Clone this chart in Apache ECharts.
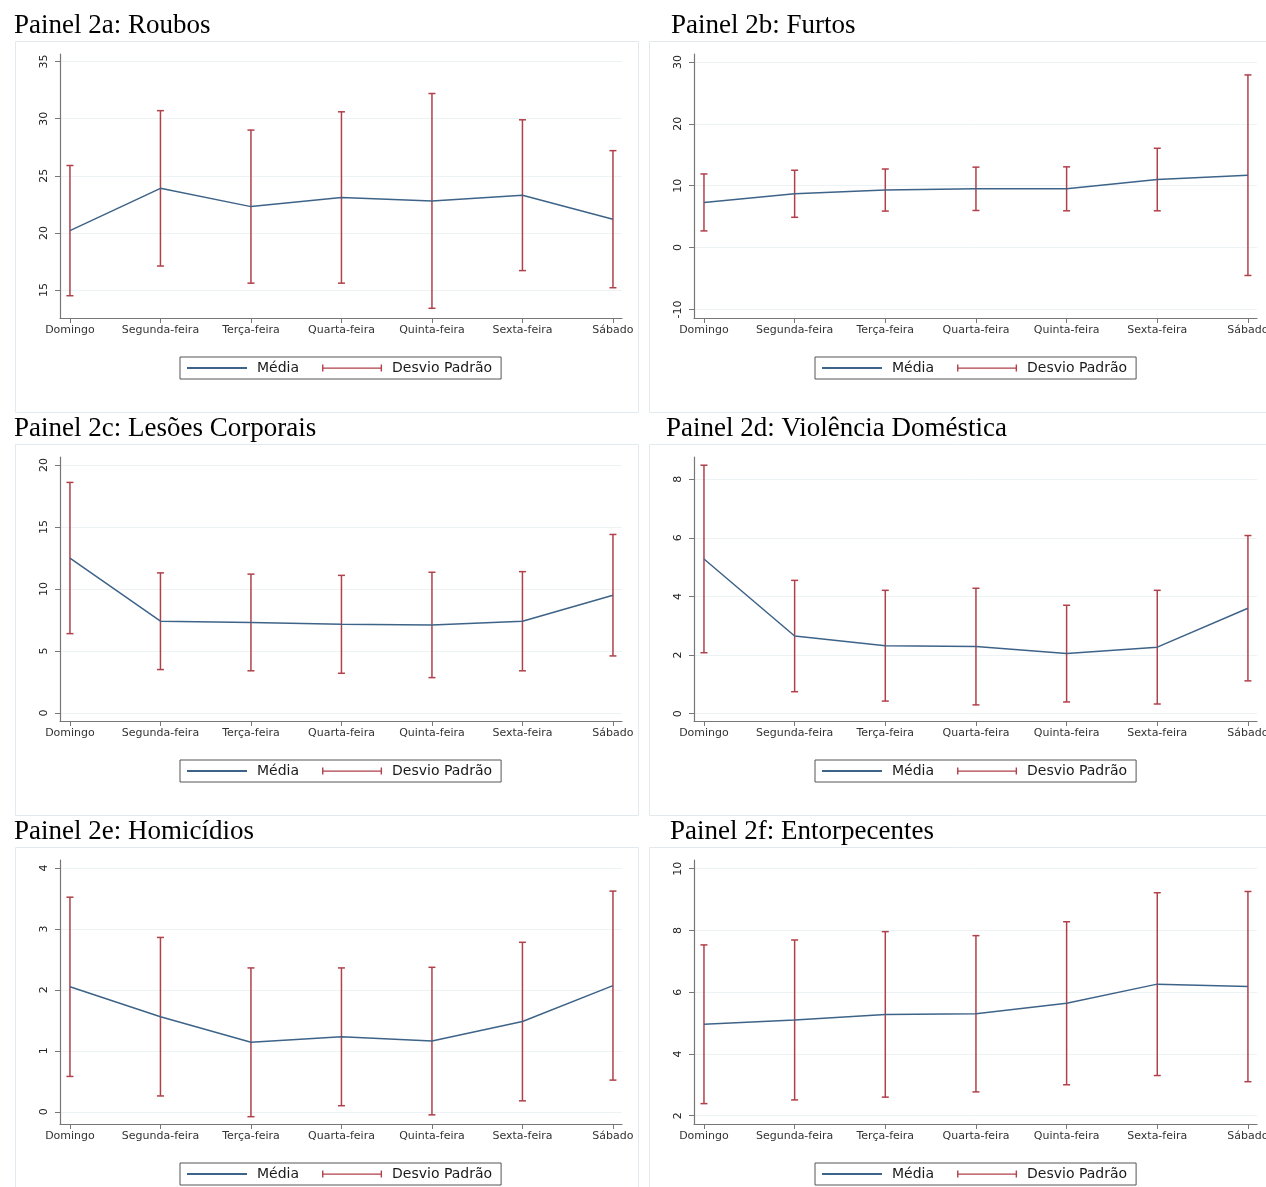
<!DOCTYPE html>
<html>
<head>
<meta charset="utf-8">
<title>Painel 2</title>
<script src="https://cdn.jsdelivr.net/npm/echarts@6.0.0/dist/echarts.min.js"></script>
<style>
    html, body { margin: 0; padding: 0; background: #fff; }
    #chart { width: 1266px; height: 1187px; }
</style>
</head>
<body>
<div id="chart"></div>
<script>
// dias da semana (eixo x)
const dias = ['Domingo', 'Segunda-feira', 'Terça-feira', 'Quarta-feira', 'Quinta-feira', 'Sexta-feira', 'Sábado'];

// Painel 2a: Roubos
const roubosMedia = [20.2, 23.9, 22.3, 23.1, 22.8, 23.3, 21.2];
const roubosDesvio = [5.7, 6.8, 6.7, 7.5, 9.4, 6.6, 6.0];
const roubosTicks = [15, 20, 25, 30, 35];

// Painel 2b: Furtos
const furtosMedia = [7.3, 8.7, 9.3, 9.5, 9.5, 11.0, 11.7];
const furtosDesvio = [4.6, 3.8, 3.4, 3.5, 3.55, 5.05, 16.2];
const furtosTicks = [-10, 0, 10, 20, 30];

// Painel 2c: Lesões Corporais
const lesoesMedia = [12.5, 7.4, 7.3, 7.15, 7.1, 7.4, 9.5];
const lesoesDesvio = [6.1, 3.9, 3.9, 3.95, 4.25, 4.0, 4.9];
const lesoesTicks = [0, 5, 10, 15, 20];

// Painel 2d: Violência Doméstica
const violenciaMedia = [5.28, 2.65, 2.32, 2.29, 2.05, 2.27, 3.6];
const violenciaDesvio = [3.2, 1.9, 1.89, 1.99, 1.65, 1.94, 2.48];
const violenciaTicks = [0, 2, 4, 6, 8];

// Painel 2e: Homicídios
const homicidiosMedia = [2.05, 1.56, 1.14, 1.23, 1.16, 1.48, 2.07];
const homicidiosDesvio = [1.47, 1.3, 1.22, 1.13, 1.21, 1.3, 1.55];
const homicidiosTicks = [0, 1, 2, 3, 4];

// Painel 2f: Entorpecentes
const entorpecentesMedia = [4.96, 5.1, 5.28, 5.3, 5.64, 6.26, 6.18];
const entorpecentesDesvio = [2.57, 2.59, 2.68, 2.53, 2.64, 2.96, 3.08];
const entorpecentesTicks = [2, 4, 6, 8, 10];

// limites do eixo y de cada painel
const yMin = [12.55, -11.37, -0.65, -0.25, -0.2, 1.73];
const yMax = [35.66, 31.28, 20.65, 8.76, 4.13, 10.28];

const titulos = ['Painel 2a: Roubos', 'Painel 2b: Furtos', 'Painel 2c: Lesões Corporais',
    'Painel 2d: Violência Doméstica', 'Painel 2e: Homicídios', 'Painel 2f: Entorpecentes'];

const medias = [roubosMedia, furtosMedia, lesoesMedia, violenciaMedia, homicidiosMedia, entorpecentesMedia];
const desvios = [roubosDesvio, furtosDesvio, lesoesDesvio, violenciaDesvio, homicidiosDesvio, entorpecentesDesvio];
const ticks = [roubosTicks, furtosTicks, lesoesTicks, violenciaTicks, homicidiosTicks, entorpecentesTicks];

const corMedia = '#3e6388';
const corDesvio = '#b0404a';
const fonte = 'DejaVu Sans';
// icone da legenda com as "tampas" do intervalo
const iconeDesvio = 'path://M0,0h1.4v7h-1.4z M0,2.9h60v1.3h-60z M58.6,0h1.4v7h-1.4z';

const titleX = [14, 671, 14, 666, 14, 670];
const rowStep = 403;

const myChart = echarts.init(document.getElementById('chart'));

const grids = [], xAxes = [], yAxes = [], series = [], legends = [], titles = [], boxes = [];

medias.forEach((media, i) => {
    const col = i % 2;
    const row = Math.floor(i / 2);
    const dy = row * rowStep;

    titles.push({
        text: titulos[i],
        left: titleX[i],
        top: 12 + dy,
        padding: 0,
        textStyle: {fontFamily: 'Liberation Serif', fontSize: 27, fontWeight: 'normal', color: '#000'}
    });

    // moldura clara de cada painel
    boxes.push({
        type: 'rect',
        silent: true,
        shape: {x: col ? 649.5 : 15.5, y: 41.5 + dy, width: col ? 640 : 623, height: row === 2 ? 400 : 371},
        style: {fill: 'none', stroke: '#e3eaee', lineWidth: 1}
    });

    // outerBoundsMode none: o rótulo "Sábado" pode ficar cortado na borda, como no original
    grids.push({
        left: col ? 694 : 60, top: 54 + dy, width: col ? 563 : 562, height: 264,
        containLabel: false, outerBoundsMode: 'none'
    });

    xAxes.push({
        type: 'value',
        gridIndex: i,
        min: -0.11,
        max: 6.1,
        axisLine: {onZero: false, lineStyle: {color: '#777', width: 1.2}},
        axisTick: {length: 5, lineStyle: {color: '#777'}, customValues: [0, 1, 2, 3, 4, 5, 6]},
        axisLabel: {
            customValues: [0, 1, 2, 3, 4, 5, 6],
            formatter: v => dias[v],
            fontFamily: fonte, fontSize: 11, color: '#333', margin: 7,
            hideOverlap: false
        },
        splitLine: {show: false}
    });

    yAxes.push({
        type: 'value',
        gridIndex: i,
        min: yMin[i],
        max: yMax[i],
        axisLine: {show: true, onZero: false, lineStyle: {color: '#777', width: 1.2}},
        axisTick: {show: true, length: 5, lineStyle: {color: '#777'}, customValues: ticks[i]},
        axisLabel: {customValues: ticks[i], rotate: 90, fontFamily: fonte, fontSize: 11, color: '#222', margin: 10},
        splitLine: {show: true, lineStyle: {color: '#edf2f4', width: 1}}
    });

    series.push({
        name: 'Média',
        type: 'line',
        xAxisIndex: i,
        yAxisIndex: i,
        symbol: 'none',
        lineStyle: {color: corMedia, width: 1.5},
        itemStyle: {color: corMedia},
        data: media.map((v, j) => [j, v]),
        z: 3
    });

    series.push({
        name: 'Desvio Padrão',
        type: 'custom',
        xAxisIndex: i,
        yAxisIndex: i,
        itemStyle: {color: corDesvio},
        encode: {x: 0, y: [1, 2]},
        data: media.map((v, j) => [j, v - desvios[i][j], v + desvios[i][j]]),
        renderItem: function (params, api) {
            const x = api.value(0);
            const lo = api.coord([x, api.value(1)]);
            const hi = api.coord([x, api.value(2)]);
            const cap = 3.5;
            const st = {stroke: corDesvio, lineWidth: 1.5};
            return {
                type: 'group',
                children: [
                    {type: 'line', shape: {x1: lo[0], y1: lo[1], x2: hi[0], y2: hi[1]}, style: st},
                    {type: 'line', shape: {x1: lo[0] - cap, y1: lo[1], x2: lo[0] + cap, y2: lo[1]}, style: st},
                    {type: 'line', shape: {x1: hi[0] - cap, y1: hi[1], x2: hi[0] + cap, y2: hi[1]}, style: st}
                ]
            };
        },
        z: 2
    });

    legends.push({
        left: col ? 815 : 180,
        top: 357 + dy,
        orient: 'horizontal',
        selectedMode: false,
        data: [
            {name: 'Média', itemStyle: {opacity: 0}},  // só a linha, sem o ponto
            {name: 'Desvio Padrão', icon: iconeDesvio}
        ],
        itemWidth: 60,
        itemHeight: 7,
        itemGap: 23,
        borderColor: '#555',
        borderWidth: 1,
        padding: [4, 9, 4, 6],
        textStyle: {fontFamily: fonte, fontSize: 14, color: '#1a1a1a', padding: [0, 0, 0, 5]}
    });
});

myChart.setOption({
    backgroundColor: '#fff',
    animation: false,
    title: titles,
    graphic: boxes,
    grid: grids,
    xAxis: xAxes,
    yAxis: yAxes,
    legend: legends,
    series: series
});
</script>
</body>
</html>
